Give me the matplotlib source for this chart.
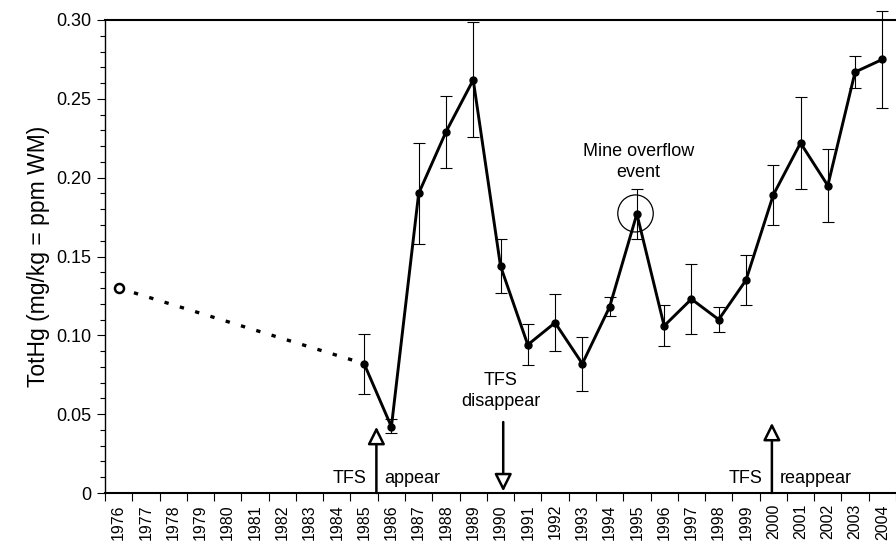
import numpy as np
import matplotlib
matplotlib.use("Agg")
import matplotlib.pyplot as plt
from matplotlib.ticker import MultipleLocator, FixedLocator, FixedFormatter
from matplotlib.patches import Ellipse

plt.rcParams['font.family'] = ['Liberation Sans', 'DejaVu Sans']

# data
all_years = list(range(1976, 2005))
year_labels = [str(y) for y in all_years]

old_year = 1976
old_value = 0.130

years = [1985, 1986, 1987, 1988, 1989, 1990, 1991, 1992, 1993, 1994,
         1995, 1996, 1997, 1998, 1999, 2000, 2001, 2002, 2003, 2004]
means = [0.082, 0.042, 0.190, 0.229, 0.262, 0.144, 0.094, 0.108, 0.082, 0.118,
         0.177, 0.106, 0.123, 0.110, 0.135, 0.189, 0.222, 0.195, 0.267, 0.275]
err_top = [0.101, 0.047, 0.222, 0.252, 0.299, 0.161, 0.107, 0.126, 0.099, 0.124,
           0.193, 0.119, 0.145, 0.118, 0.151, 0.208, 0.251, 0.218, 0.277, 0.306]
err_bot = [0.063, 0.038, 0.158, 0.206, 0.226, 0.127, 0.081, 0.090, 0.065, 0.112,
           0.161, 0.093, 0.101, 0.102, 0.119, 0.170, 0.193, 0.172, 0.257, 0.244]

yticks = [0, 0.05, 0.10, 0.15, 0.20, 0.25, 0.30]
ytick_labels = ['0', '0.05', '0.10', '0.15', '0.20', '0.25', '0.30']

means = np.array(means)
yerr = [means - np.array(err_bot), np.array(err_top) - means]

fig = plt.figure(figsize=(8.96, 5.42), dpi=100)
ax = fig.add_axes([105/896, 49/542, 1 - 105/896, (493-20)/542])

# dotted link from 1976 to 1985
ax.plot([old_year, years[0]], [old_value, means[0]], color='black',
        lw=2.4, linestyle=(0, (1.3, 3.5)), dash_capstyle='butt')
ax.plot([old_year], [old_value], marker='o', ms=6.5, mfc='white', mec='black',
        mew=1.8, linestyle='none', zorder=5)

ax.errorbar(years, means, yerr=yerr, fmt='none', ecolor='black', elinewidth=0.8,
            capsize=4, capthick=0.8, clip_on=False, zorder=3)
ax.plot(years, means, color='black', lw=2.1, marker='o', ms=5, zorder=4)

# circle around the 1995 point
ax.add_patch(Ellipse((1995 - 0.05, 0.1773), width=1.3, height=0.0235,
                     fill=False, ec='black', lw=0.9, zorder=5))
ax.text(1995.05, 0.210, 'Mine overflow\nevent', ha='center', va='center',
        fontsize=13, linespacing=1.3)

# TFS arrows
hollow = dict(arrowstyle='-|>,head_length=0.7,head_width=0.35', fc='white',
              ec='black', lw=1.8, shrinkA=0, shrinkB=0, mutation_scale=15)
ax.annotate('', xy=(1985.45, 0.042), xytext=(1985.45, 0), arrowprops=hollow)
ax.text(1985.1, 0.0095, 'TFS', ha='right', va='center', fontsize=13)
ax.text(1985.72, 0.0095, 'appear', ha='left', va='center', fontsize=13)

ax.annotate('', xy=(1990.1, 0.001), xytext=(1990.1, 0.045), arrowprops=hollow)
ax.text(1990.0, 0.0645, 'TFS\ndisappear', ha='center', va='center',
        fontsize=13, linespacing=1.3)

ax.annotate('', xy=(1999.95, 0.0445), xytext=(1999.95, 0), arrowprops=hollow)
ax.text(1999.6, 0.0095, 'TFS', ha='right', va='center', fontsize=13)
ax.text(2000.25, 0.0095, 'reappear', ha='left', va='center', fontsize=13)

# axes
ax.set_xlim(1975.5, 2004.5)
ax.set_ylim(0, 0.30)
ax.xaxis.set_major_locator(FixedLocator(all_years))
ax.xaxis.set_major_formatter(FixedFormatter(year_labels))
ax.xaxis.set_minor_locator(FixedLocator(np.arange(1975.5, 2005, 1.0)))
ax.tick_params(axis='x', which='major', length=0, pad=8, labelrotation=90,
               labelsize=11.5)
ax.tick_params(axis='x', which='minor', length=6, width=0.8, direction='out')

ax.yaxis.set_major_locator(FixedLocator(yticks))
ax.yaxis.set_major_formatter(FixedFormatter(ytick_labels))
ax.yaxis.set_minor_locator(MultipleLocator(0.01))
ax.tick_params(axis='y', which='major', length=6, width=0.8, labelsize=13, pad=4)
ax.tick_params(axis='y', which='minor', length=3.5, width=0.8)
ax.set_ylabel('TotHg (mg/kg = ppm WM)', fontsize=16.5, labelpad=4)

ax.spines['right'].set_visible(False)
for s in ['top', 'bottom']:
    ax.spines[s].set_linewidth(1.5)
ax.spines['left'].set_linewidth(1.0)

fig.savefig('out.png', dpi=100)
